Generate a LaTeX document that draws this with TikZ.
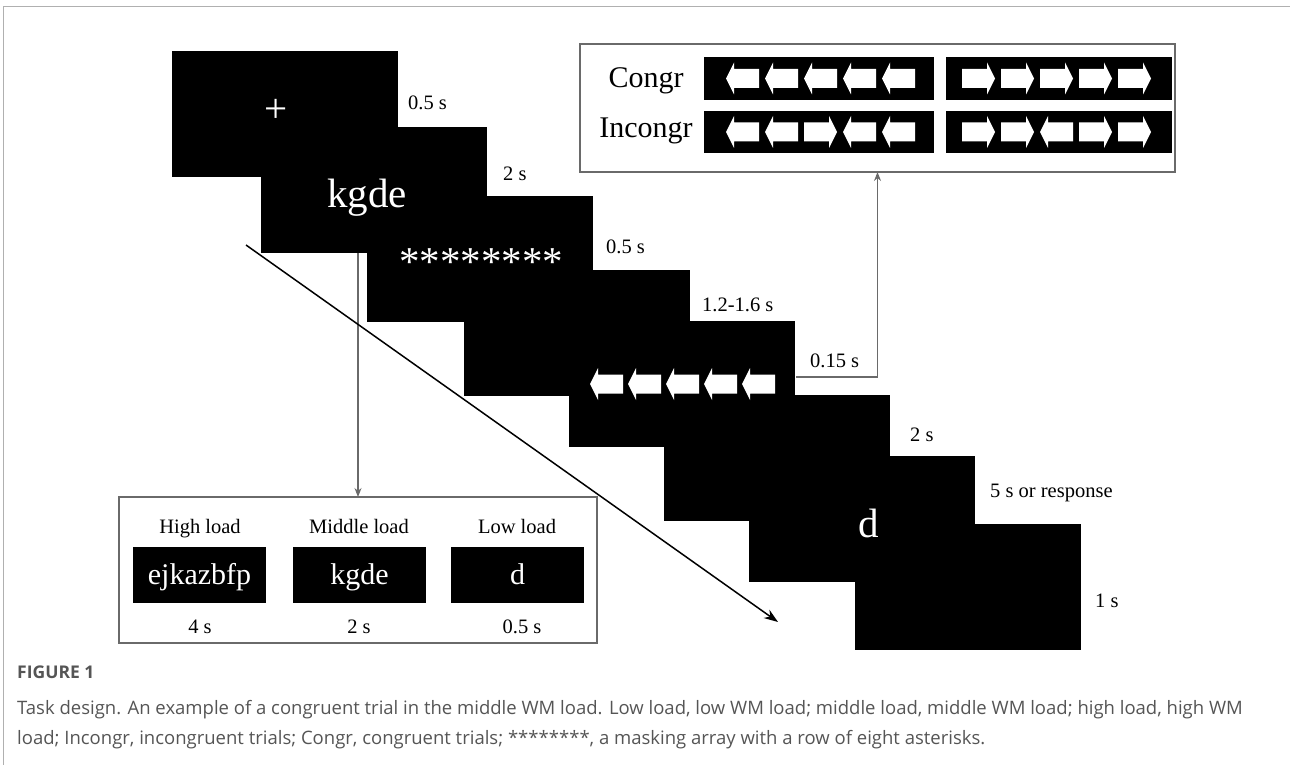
\documentclass[tikz,border=0pt]{standalone}
\usepackage{fontspec}
\setmainfont{Liberation Serif}
\newfontfamily\captionsans{Open Sans}
\usetikzlibrary{arrows.meta}
\definecolor{framegray}{HTML}{B0B0B0}
\definecolor{wiregray}{HTML}{6A6A6A}
\definecolor{captiongray}{HTML}{555555}
\begin{document}
\begin{tikzpicture}[x=1pt,y=-1pt,
  screen/.style={fill=black,minimum width=226pt,minimum height=126pt,anchor=north west,inner sep=0pt,outer sep=0pt},
  bar/.style={fill=black,minimum height=43pt,anchor=north west,inner sep=0pt,outer sep=0pt},
  sample/.style={fill=black,minimum width=133pt,minimum height=56pt,anchor=north west,inner sep=0pt,outer sep=0pt},
  panel/.style={draw=wiregray,line width=1.2pt,anchor=north west,inner sep=0pt,outer sep=0pt},
  dur/.style={font=\fontsize{20.5}{24}\selectfont,anchor=base west,inner sep=0pt},
  tag/.style={font=\fontsize{20.5}{24}\selectfont,anchor=base,inner sep=0pt},
  stim/.style={text=white,font=\fontsize{41}{48}\selectfont,inner sep=0pt},
  smallstim/.style={text=white,font=\fontsize{30}{36}\selectfont,anchor=base,inner sep=0pt},
  rowlabel/.style={font=\fontsize{30}{36}\selectfont,anchor=base,inner sep=0pt},
  wire/.style={draw=wiregray,line width=1.2pt,-{Stealth[length=9pt,width=7pt]}},
  timeline/.style={draw=black,line width=1.5pt,-{Stealth[length=14pt,width=10pt]}},
  captext/.style={anchor=base west,inner sep=0pt,text=captiongray},
  pics/leftarr/.style={code={\fill[white] (0,0) -- (8,-16) -- (8,-9.5) -- (33,-9.5) -- (33,9.5) -- (8,9.5) -- (8,16) -- cycle;}},
  pics/rightarr/.style={code={\fill[white] (0,0) -- (-8,-16) -- (-8,-9.5) -- (-33,-9.5) -- (-33,9.5) -- (-8,9.5) -- (-8,16) -- cycle;}},
]
\path[use as bounding box] (0,0) rectangle (1290,765);
\draw[framegray,line width=1pt] (3,765) -- (3,7) -- (1290,7);

% trial sequence screens
\node[screen] (s1) at (172,51) {};
\node[screen] (s2) at (261,127) {};
\node[screen] (s3) at (367,196) {};
\node[screen] (s4) at (464,270) {};
\node[screen] (s5) at (569,321) {};
\node[screen] (s6) at (664,395) {};
\node[screen] (s7) at (749,456) {};
\node[screen] (s8) at (855,524) {};

% screen contents
\node[stim] (fix) at (276,111) {+};
\node[stim,anchor=base] (mem) at (367,207) {kgde};
\node[stim] (mask) at (481,262) {********};
\foreach \k in {0,...,4} \pic at ({590+38*\k},384) {leftarr};
\node[stim,anchor=base] (probe) at (869,537) {d};

% durations
\node[dur] (t1) at (408,110) {0.5 s};
\node[dur] (t2) at (503,180) {2 s};
\node[dur] (t3) at (606,253) {0.5 s};
\node[dur] (t4) at (702,311) {1.2-1.6 s};
\node[dur] (t5) at (810,367) {0.15 s};
\node[dur] (t6) at (910,441) {2 s};
\node[dur] (t7) at (990,497) {5 s or response};
\node[dur] (t8) at (1095,607) {1 s};

% flanker conditions panel
\node[panel,minimum width=595pt,minimum height=128pt] (flank) at (580,44) {};
\node[rowlabel] (congr) at (646,88) {Congr};
\node[rowlabel] (incongr) at (646,138) {Incongr};
\node[bar,minimum width=230pt] (b1) at (704,57) {};
\node[bar,minimum width=226pt] (b2) at (946,57) {};
\node[bar,minimum width=230pt,minimum height=42pt] (b3) at (704,111) {};
\node[bar,minimum width=226pt,minimum height=42pt] (b4) at (946,111) {};
\foreach \k in {0,...,4} {
  \pic at ({726+39*\k},78.5) {leftarr};
  \pic at ({962+39*\k+33},78.5) {rightarr};
}
\foreach \k in {0,1,3,4} {
  \pic at ({726+39*\k},132) {leftarr};
  \pic at ({962+39*\k+33},132) {rightarr};
}
\pic at ({726+39*2+33},132) {rightarr};
\pic at ({962+39*2},132) {leftarr};

% memory load panel
\node[panel,minimum width=478pt,minimum height=146pt] (load) at (119,497) {};
\node[tag] (hl) at (200,533) {High load};
\node[tag] (ml) at (359,533) {Middle load};
\node[tag] (ll) at (517,533) {Low load};
\node[sample] (hs) at (133,547) {};
\node[sample] (ms) at (293,547) {};
\node[sample] (ls) at (451,547) {};
\node[smallstim] at (hs.center |- 0,584) {ejkazbfp};
\node[smallstim] at (ms.center |- 0,584) {kgde};
\node[smallstim] at (ls.center |- 0,584) {d};
\node[tag] (ht) at (200,633) {4 s};
\node[tag] (mt) at (359,633) {2 s};
\node[tag] (lt) at (522,633) {0.5 s};

% connectors
\draw[wire] (s2.south -| load.north) -- (load.north);
\coordinate (cueout) at (796,377);
\draw[wire] (cueout) -| (flank.south);
\coordinate (tstart) at (246,245);
\coordinate (tend) at (778,622);
\draw[timeline] (tstart) -- (tend);

% caption
\node[captext,font=\captionsans\fontsize{17.5}{20}\selectfont\bfseries] (fig) at (17,678) {FIGURE 1};
\node[captext,font=\captionsans\fontsize{18.5}{22}\selectfont] (cap1) at (17,714) {Task design. An example of a congruent trial in the middle WM load. Low load, low WM load; middle load, middle WM load; high load, high WM};
\node[captext,font=\captionsans\fontsize{18.5}{22}\selectfont] (cap2) at (17,744) {load; Incongr, incongruent trials; Congr, congruent trials; ********, a masking array with a row of eight asterisks.};
\end{tikzpicture}
\end{document}
